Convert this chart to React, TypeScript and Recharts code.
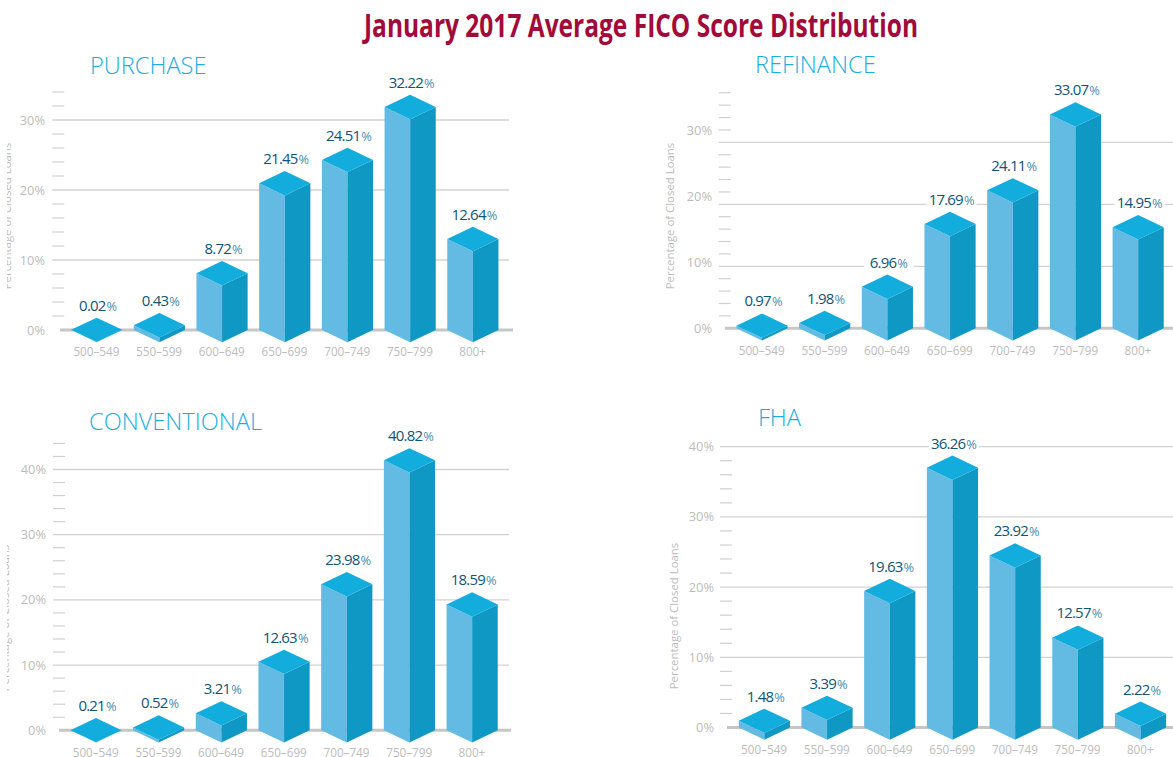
import React from "react";
import { BarChart, Bar, XAxis, YAxis, CartesianGrid, LabelList, Label } from "recharts";

const categories = ["500–549", "550–599", "600–649", "650–699", "700–749", "750–799", "800+"];

// Percentages printed above the bars
const purchasePrinted = [0.02, 0.43, 8.72, 21.45, 24.51, 32.22, 12.64];
const refinancePrinted = [0.97, 1.98, 6.96, 17.69, 24.11, 33.07, 14.95];
const conventionalPrinted = [0.21, 0.52, 3.21, 12.63, 23.98, 40.82, 18.59];
const fhaPrinted = [1.48, 3.39, 19.63, 36.26, 23.92, 12.57, 2.22];

// Bar heights as drawn
const purchaseDrawn = [0.02, 0.67, 8.1, 20.96, 24.3, 31.86, 13.0];
const refinanceDrawn = [0.4, 0.82, 6.3, 15.8, 20.9, 32.4, 15.3];
const conventionalDrawn = [0.02, 0.43, 2.6, 10.5, 22.4, 41.4, 19.3];
const fhaDrawn = [0.95, 2.8, 19.45, 37.0, 24.5, 12.8, 1.96];

const purchaseMajor = [0, 10, 20, 30];
const purchaseMinor = [2, 4, 6, 8, 12, 14, 16, 18, 22, 24, 26, 28, 32, 34];
const refinanceMajor = [0, 10, 20, 30];
const refinanceMinor = [1.88, 3.76, 5.64, 7.52, 11.27, 13.15, 15.03, 16.91, 20.66, 22.54, 24.42, 26.3, 30.05, 31.93, 33.81, 35.69];
const refinanceGrid = [0, 9.39, 18.78, 28.18];
const conventionalMajor = [0, 10, 20, 30, 40];
const conventionalMinor = [2, 4, 6, 8, 12, 14, 16, 18, 22, 24, 26, 28, 32, 34, 36, 38, 42, 44];
const fhaMajor = [0, 10, 20, 30, 40];
const fhaMinor = [2, 4, 6, 8, 12, 14, 16, 18, 22, 24, 26, 28, 32, 34, 36, 38];

const FONT = '"Open Sans", sans-serif';
const W = 1173;
const H = 757;
const HALF_H = 12.2;
const STEP = 62.7;
const BAR_W = 51.2;

type Panel = {
  id: string; title: string; titleX: number; titleY: number;
  printed: number[]; drawn: number[]; major: number[]; minor: number[]; grid: number[];
  firstCenter: number; base: number; ppu: number; yMax: number;
  gridL: number; gridR: number; baseL: number; baseR: number; labelR: number;
  axisX: number; axisClip: number; axisY: number;
};

const panels: Panel[] = [
  { id: "p", title: "PURCHASE", titleX: 90, titleY: 65, printed: purchasePrinted, drawn: purchaseDrawn, major: purchaseMajor, minor: purchaseMinor, grid: purchaseMajor,
    firstCenter: 96.4, base: 330, ppu: 7, yMax: 34, gridL: 52.3, gridR: 509, baseL: 60, baseR: 513, labelR: 45, axisX: 10.5, axisClip: 7, axisY: 216 },
  { id: "r", title: "REFINANCE", titleX: 755, titleY: 64, printed: refinancePrinted, drawn: refinanceDrawn, major: refinanceMajor, minor: refinanceMinor, grid: refinanceGrid,
    firstCenter: 761.7, base: 328.3, ppu: 6.6, yMax: 35.69, gridL: 718.7, gridR: 1173, baseL: 725, baseR: 1173, labelR: 712, axisX: 674, axisClip: 0, axisY: 216 },
  { id: "c", title: "CONVENTIONAL", titleX: 89, titleY: 421, printed: conventionalPrinted, drawn: conventionalDrawn, major: conventionalMajor, minor: conventionalMinor, grid: conventionalMajor,
    firstCenter: 95.7, base: 730.3, ppu: 6.52, yMax: 44, gridL: 53, gridR: 509, baseL: 59, baseR: 511, labelR: 46, axisX: 9, axisClip: 7, axisY: 618 },
  { id: "f", title: "FHA", titleX: 758, titleY: 417, printed: fhaPrinted, drawn: fhaDrawn, major: fhaMajor, minor: fhaMinor, grid: fhaMajor,
    firstCenter: 764.1, base: 727.5, ppu: 7.02, yMax: 40, gridL: 720, gridR: 1173, baseL: 727, baseR: 1173, labelR: 714, axisX: 678, axisClip: 0, axisY: 616 },
];

const Bar3D = (props: any) => {
  const { x, y, width, height } = props;
  const cx = x + width / 2;
  const r = x + width;
  const yb = y + height;
  return (
    <g>
      <polygon points={`${x},${y} ${cx},${y + HALF_H} ${cx},${yb + HALF_H} ${x},${yb}`} fill="#63BBE3" />
      <polygon points={`${cx},${y + HALF_H} ${r},${y} ${r},${yb} ${cx},${yb + HALF_H}`} fill="#0F98C4" />
      <polygon points={`${x},${y} ${cx},${y - HALF_H} ${r},${y} ${cx},${y + HALF_H}`} fill="#12ACDD" />
    </g>
  );
};

const PanelChart = ({ panel }: { panel: Panel }) => {
  const data = categories.map((c, i) => ({ category: c, drawn: panel.drawn[i], printed: panel.printed[i].toFixed(2) }));
  const plotTop = panel.base - panel.yMax * panel.ppu;
  const padL = panel.firstCenter - STEP / 2 - panel.gridL;
  const padR = panel.gridR - (panel.firstCenter + 6.5 * STEP);
  const ticks = [...panel.major, ...panel.minor].sort((a, b) => a - b);

  const yTick = (t: any) => {
    const v = t.payload.value;
    if (panel.major.includes(v)) {
      return (
        <text x={panel.labelR} y={t.y} dy={4.5} textAnchor="end" fontFamily={FONT} fontSize={12.8} fontWeight={400} fill="#bcbcbc">{`${v}%`}</text>
      );
    }
    return <line x1={panel.gridL} x2={panel.gridL + 12} y1={t.y} y2={t.y} stroke="#d0d0d0" strokeWidth={1.2} />;
  };

  const xTick = (t: any) => (
    <text x={t.x} y={panel.base + 22.2} dy={4} textAnchor="middle" fontFamily={FONT} fontSize={11.7} fontWeight={400} fill="#bcbcbc">{t.payload.value}</text>
  );

  const gridLine = (p: any) => {
    const isBase = Math.abs(p.y1 - panel.base) < 1;
    return (
      <line key={p.key ?? p.y1} x1={isBase ? panel.baseL : panel.gridL} x2={isBase ? panel.baseR : panel.gridR} y1={p.y1} y2={p.y1}
        stroke={isBase ? "#c6c6c6" : "#d2d2d2"} strokeWidth={isBase ? 3 : 1.3} />
    );
  };

  const valueLabel = (l: any) => {
    const cx = l.x + l.width / 2 + 1.5;
    const cy = l.y - HALF_H - 12;
    return (
      <g>
        <rect x={cx - 25} y={cy - 8} width={50} height={16} fill="#fff" />
        <text x={cx} y={cy + 5} textAnchor="middle" fontFamily={FONT} fill="#0D5578">
          <tspan fontSize={15} fontWeight={500} letterSpacing={-0.8}>{l.value}</tspan>
          <tspan fontSize={12.8} fontWeight={400} fill="#4a8eae" dx={1}>%</tspan>
        </text>
      </g>
    );
  };

  const axisTitle = () => {
    const id = `clip-${panel.id}`;
    return (
      <g>
        {panel.axisClip > 0 && (
          <defs>
            <clipPath id={id}><rect x={panel.axisClip} y={0} width={40} height={H} /></clipPath>
          </defs>
        )}
        <g clipPath={panel.axisClip > 0 ? `url(#${id})` : undefined}>
          <text transform={`translate(${panel.axisX},${panel.axisY}) rotate(-90)`} textAnchor="middle" fontFamily={FONT} fontSize={11.4} fontWeight={400} fill="#bcbcbc">Percentage of Closed Loans</text>
        </g>
      </g>
    );
  };

  return (
    <div style={{ position: "absolute", left: 0, top: 0, width: W, height: H }}>
      <BarChart width={W} height={H} data={data} barSize={BAR_W}
        margin={{ left: panel.gridL - 1, right: W - panel.gridR, top: plotTop, bottom: H - panel.base - 1 }}>
        <CartesianGrid vertical={false} horizontal={gridLine} horizontalValues={panel.grid} />
        <XAxis dataKey="category" height={1} axisLine={false} tickLine={false} interval={0} tick={xTick} padding={{ left: padL, right: padR }} />
        <YAxis type="number" width={1} domain={[0, panel.yMax]} ticks={ticks} interval={0} axisLine={false} tickLine={false} tick={yTick}>
          <Label content={axisTitle} />
        </YAxis>
        <Bar dataKey="drawn" isAnimationActive={false} shape={Bar3D}>
          <LabelList dataKey="printed" content={valueLabel} />
        </Bar>
      </BarChart>
    </div>
  );
};

const titleText = "January 2017 Average FICO Score Distribution";

export default function App() {
  return (
    <div style={{ position: "absolute", left: 0, top: 0, width: W, height: H, overflow: "hidden", background: "#fff" }}>
      {panels.map((p) => <PanelChart key={p.id} panel={p} />)}
      <svg width={W} height={50} style={{ position: "absolute", left: 0, top: 0 }}>
        <text x={364} y={36.5} textLength={554} lengthAdjust="spacingAndGlyphs" fontFamily={FONT} fontWeight={700} fontSize={33} fill="#A20A3A">{titleText}</text>
      </svg>
      {panels.map((p) => (
        <div key={p.id} style={{ position: "absolute", left: p.titleX, top: p.titleY - 18, lineHeight: "36px", fontFamily: FONT, fontWeight: 300, fontSize: 23.6, color: "#19AEDF", whiteSpace: "nowrap" }}>{p.title}</div>
      ))}
    </div>
  );
}
